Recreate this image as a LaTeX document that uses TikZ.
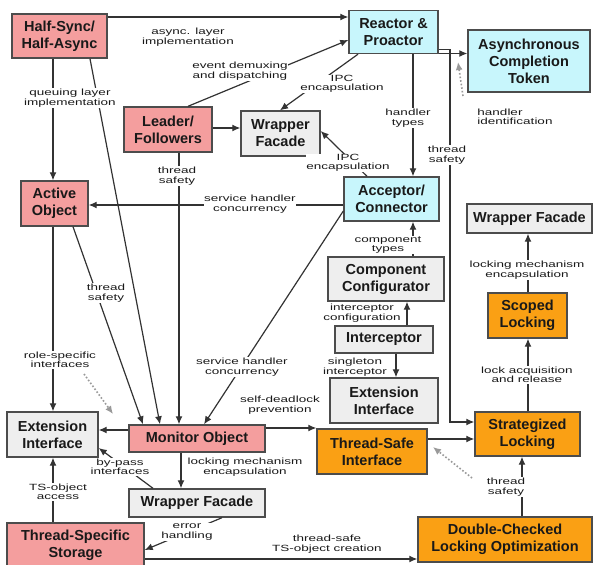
\documentclass[tikz,border=0pt]{standalone}
\usepackage{fontspec}
\setmainfont{Liberation Sans}
\newfontfamily\lblfont[FakeStretch=1.5]{Liberation Sans}
\usetikzlibrary{arrows.meta}
\definecolor{pinkbox}{RGB}{244,158,158}
\definecolor{cyanbox}{RGB}{200,246,252}
\definecolor{graybox}{RGB}{238,238,238}
\definecolor{orangebox}{RGB}{250,160,20}
\begin{document}
\begin{tikzpicture}[x=1pt,y=-1pt,
  box/.style={draw=black!70, line width=1.4pt, align=center, inner sep=0pt,
    font=\fontsize{14.5}{17}\selectfont\bfseries, text=black!90},
  pinkb/.style={box, fill=pinkbox},
  cyanb/.style={box, fill=cyanbox},
  grayb/.style={box, fill=graybox},
  orangeb/.style={box, fill=orangebox},
  conn/.style={draw=black!80, line width=1.2pt, -{Latex[length=8pt,width=7pt]}},
  dotconn/.style={draw=black!40, line width=1.6pt, dotted, -{Latex[length=8pt,width=7pt]}},
  lbl/.style={font=\lblfont\fontsize{9}{9.5}\selectfont, align=center, fill=white, inner sep=0.6pt, text=black!90},
]
\useasboundingbox (0,0) rectangle (598,565);
\fill[white] (0,0) rectangle (598,565);

% nodes
\node[pinkb, minimum width=95pt, minimum height=44pt] (hsha) at (59.5,36) {Half-Sync/\\Half-Async};
\node[cyanb, minimum width=89pt, minimum height=43pt] (rp) at (393.5,32) {Reactor \&\\Proactor};
\node[cyanb, minimum width=122pt, minimum height=62pt] (act) at (529,61) {Asynchronous\\Completion\\Token};
\node[pinkb, minimum width=88pt, minimum height=45pt] (lf) at (168,129.5) {Leader/\\Followers};
\node[grayb, minimum width=79pt, minimum height=45pt] (wf1) at (280.5,133.5) {Wrapper\\Facade};
\node[pinkb, minimum width=67pt, minimum height=45pt] (ao) at (54.5,203.5) {Active\\Object};
\node[cyanb, minimum width=95pt, minimum height=44pt] (ac) at (391.5,199) {Acceptor/\\Connector};
\node[grayb, minimum width=125pt, minimum height=29pt] (wf2) at (529.5,218.5) {Wrapper Facade};
\node[grayb, minimum width=116pt, minimum height=44pt] (cc) at (386,279) {Component\\Configurator};
\node[orangeb, minimum width=79pt, minimum height=45pt] (sl) at (527.5,315.5) {Scoped\\Locking};
\node[grayb, minimum width=98pt, minimum height=27pt] (int) at (384,339.5) {Interceptor};
\node[grayb, minimum width=108pt, minimum height=45pt] (ei2) at (384,400.5) {Extension\\Interface};
\node[grayb, minimum width=91pt, minimum height=45pt] (ei1) at (52.5,434.5) {Extension\\Interface};
\node[pinkb, minimum width=136pt, minimum height=27pt] (mo) at (197,438.5) {Monitor Object};
\node[orangeb, minimum width=110pt, minimum height=45pt] (tsi) at (372,451.5) {Thread-Safe\\Interface};
\node[orangeb, minimum width=105pt, minimum height=44pt] (stl) at (527.5,434) {Strategized\\Locking};
\node[grayb, minimum width=136pt, minimum height=28pt] (wf3) at (197,503) {Wrapper Facade};
\node[pinkb, minimum width=137pt, minimum height=44pt] (tss) at (75.5,545) {Thread-Specific\\Storage};
\node[orangeb, minimum width=174pt, minimum height=45pt] (dclo) at (505,539.5) {Double-Checked\\Locking Optimization};

% free ends
\coordinate (hidA) at (463,96);
\coordinate (hidB) at (458,62);
\coordinate (roleA) at (84,374);
\coordinate (roleB) at (113,414);
\coordinate (tsdA) at (472,478);
\coordinate (tsdB) at (433,447);

% connectors
\draw[conn] (hsha.east |- 0,17) -- (rp.west |- 0,17);
\draw[conn] (188,0 |- lf.north) -- (rp.west |- 0,40);
\draw[conn] (358,0 |- rp.south) -- (280,0 |- wf1.north);
\draw[conn] (lf.east |- 0,128) -- (wf1.west |- 0,128);
\draw[conn] (367,0 |- ac.north) -- (wf1.east |- 0,131);
\draw[conn] (53,0 |- hsha.south) -- (53,0 |- ao.north);
\draw[conn] (90,0 |- hsha.south) -- (160,0 |- mo.north);
\draw[conn] (413,0 |- rp.south) -- (413,0 |- ac.north);
\draw[conn] (rp.east |- 0,53.5) -- (act.west |- 0,53.5);
\draw[conn] (rp.east |- 0,49.5) -| (450,422) -- (stl.west |- 0,422);
\draw[dotconn] (hidA) -- (hidB);
\draw[conn] (ac.west |- 0,205) -- (ao.east |- 0,205);
\draw[conn] (179,0 |- lf.south) -- (179,0 |- mo.north);
\draw[conn] (73,0 |- ao.south) -- (143,0 |- mo.north);
\draw[conn] (ac.west |- 0,211) -- (204,0 |- mo.north);
\draw[conn] (53,0 |- ao.south) -- (53,0 |- ei1.north);
\draw[dotconn] (roleA) -- (roleB);
\draw[conn] (mo.west |- 0,430) -- (ei1.east |- 0,430);
\draw[conn] (153,0 |- wf3.north) -- (ei1.east |- 0,448);
\draw[conn] (181,0 |- mo.south) -- (181,0 |- wf3.north);
\draw[conn] (222,0 |- wf3.south) -- (tss.east |- 0,550);
\draw[conn] (53,0 |- tss.north) -- (53,0 |- ei1.south);
\draw[conn] (tss.east |- 0,559) -- (dclo.west |- 0,559);
\draw[conn] (mo.east |- 0,428) -- (tsi.west |- 0,428);
\draw[conn] (tsi.east |- 0,439) -- (stl.west |- 0,439);
\draw[conn] (522,0 |- dclo.north) -- (522,0 |- stl.south);
\draw[dotconn] (tsdA) -- (tsdB);
\draw[conn] (528,0 |- stl.north) -- (528,0 |- sl.south);
\draw[conn] (528,0 |- sl.north) -- (528,0 |- wf2.south);
\draw[conn] (413,0 |- cc.north) -- (413,0 |- ac.south);
\draw[conn] (407,0 |- int.north) -- (407,0 |- cc.south);
\draw[conn] (396,0 |- int.south) -- (396,0 |- ei2.north);

% labels
\node[lbl] (l1) at (188,37) {async. layer\\implementation};
\node[lbl] (l2) at (240,71) {event demuxing\\and dispatching};
\node[lbl] (l3) at (70,98) {queuing layer\\implementation};
\node[lbl] (l4) at (342,84) {IPC\\encapsulation};
\node[lbl] (l5) at (348,163) {IPC\\encapsulation};
\node[lbl] (l6) at (408,118) {handler\\types};
\node[lbl] (l7) at (447,155) {thread\\safety};
\node[lbl, align=left] (l8) at (515,117) {handler\\identification};
\node[lbl] (l9) at (177,176) {thread\\safety};
\node[lbl] (l10) at (250,204) {service handler\\concurrency};
\node[lbl] (l11) at (106,293) {thread\\safety};
\node[lbl] (l12) at (60,360) {role-specific\\interfaces};
\node[lbl] (l13) at (242,367) {service handler\\concurrency};
\node[lbl] (l14) at (280,405) {self-deadlock\\prevention};
\node[lbl] (l15) at (120,467) {by-pass\\interfaces};
\node[lbl] (l16) at (245,467) {locking mechanism\\encapsulation};
\node[lbl] (l17) at (58,492) {TS-object\\access};
\node[lbl] (l18) at (187,532) {error\\handling};
\node[lbl] (l19) at (327,544) {thread-safe\\TS-object creation};
\node[lbl] (l20) at (506,487) {thread\\safety};
\node[lbl] (l21) at (527,375) {lock acquisition\\and release};
\node[lbl] (l22) at (527,270) {locking mechanism\\encapsulation};
\node[lbl] (l23) at (388,245) {component\\types};
\node[lbl] (l24) at (362,313) {interceptor\\configuration};
\node[lbl] (l25) at (355,367) {singleton\\interceptor};
\end{tikzpicture}
\end{document}
